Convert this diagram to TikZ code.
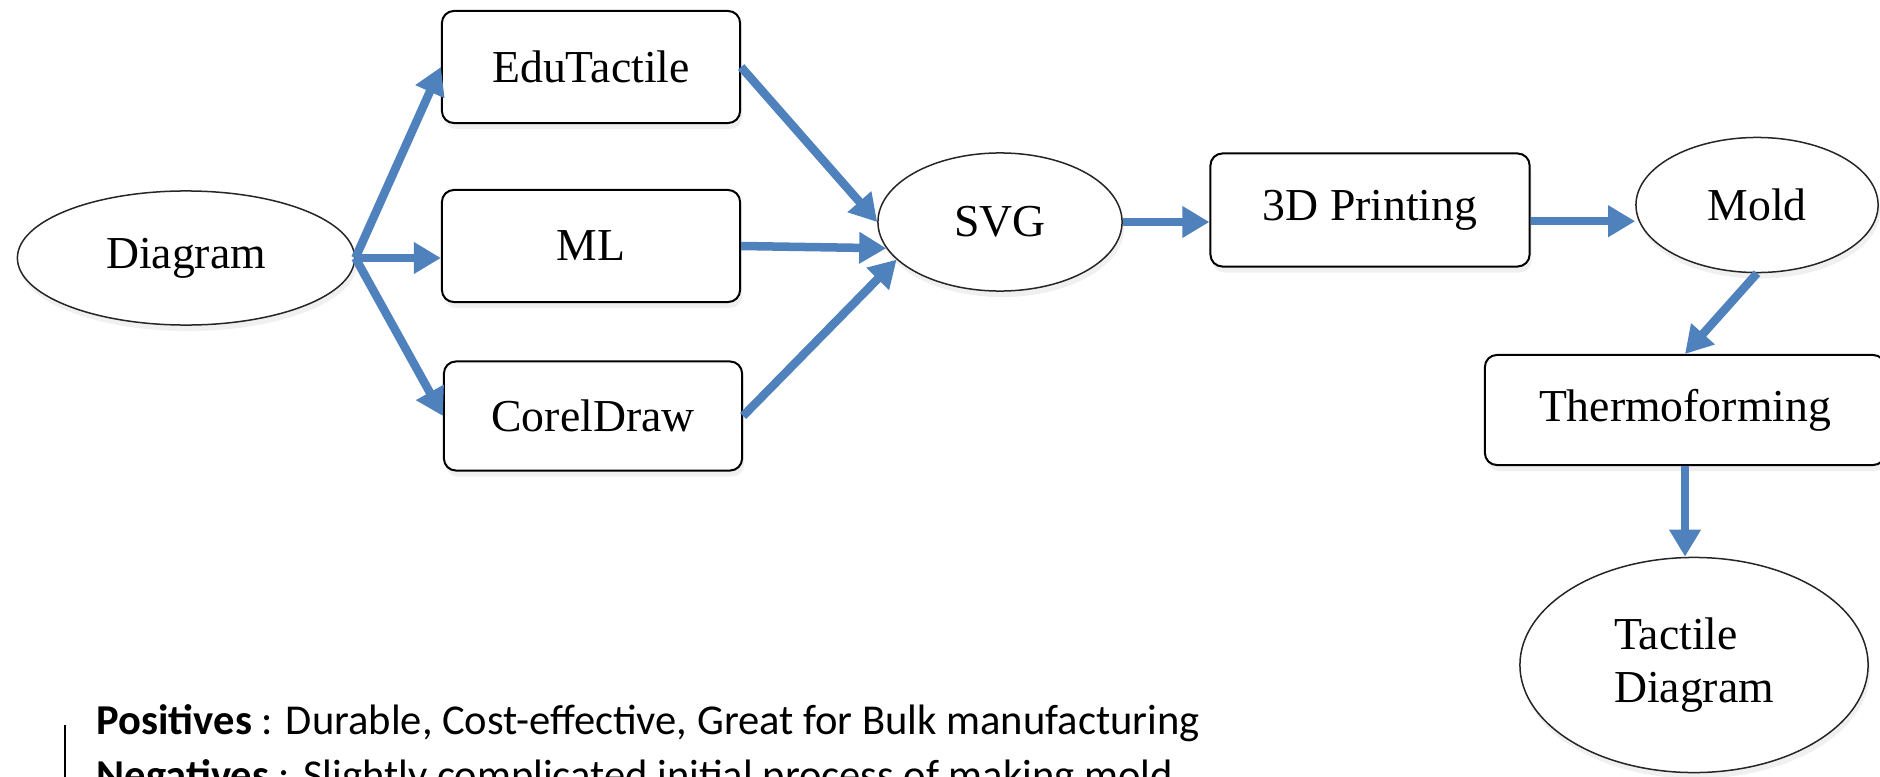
\documentclass[tikz,border=0pt]{standalone}
\usepackage{fontspec}
\setmainfont{Liberation Serif}
\newfontfamily\notefont{Carlito}
\usetikzlibrary{arrows.meta}
\usetikzlibrary{shapes.geometric}
\usetikzlibrary{positioning}
\usetikzlibrary{shadows}
\usepackage{xcolor}
\definecolor{flowblue}{HTML}{4F81BD}

\begin{document}
\begin{tikzpicture}[
        x=0.01cm, y=-0.01cm,
        pbox/.style={rectangle, rounded corners=0.12cm, draw=black, line width=0.02cm, fill=white, minimum width=2.98cm, minimum height=1.12cm, font=\fontsize{13}{15}\selectfont, drop shadow={opacity=0.12, shadow xshift=0.02cm, shadow yshift=-0.06cm}},
        pell/.style={ellipse, draw=black!85, line width=0.015cm, fill=white, inner sep=0pt, font=\fontsize{13}{15}\selectfont, drop shadow={opacity=0.12, shadow xshift=0.02cm, shadow yshift=-0.06cm}},
        note/.style={font=\notefont\fontsize{12.1}{14}\selectfont, inner sep=0pt, anchor=base west},
        flow/.style={-{Triangle[width=0.3cm,length=0.27cm]}, line width=0.085cm, draw=flowblue}
    ]
        \useasboundingbox (0,0) rectangle (1880,776);

        \node[pell, minimum width=3.37cm, minimum height=1.34cm] (diag) at (186,258) {Diagram};
        \node[pbox] (edu) at (591,67) {EduTactile};
        \node[pbox] (ml) at (591,246) {ML};
        \node[pbox, minimum height=1.09cm] (corel) at (593,416) {CorelDraw};
        \node[pell, minimum width=2.44cm, minimum height=1.38cm] (svg) at (1000,222) {SVG};
        \node[pbox, minimum width=3.19cm, minimum height=1.13cm] (print) at (1370,210) {3D Printing};
        \node[pell, minimum width=2.42cm, minimum height=1.35cm] (mold) at (1757,205) {Mold};
        \node[pbox, minimum width=4cm, minimum height=1.1cm] (thermo) at (1685,410) {Thermoforming};
        \node[pell, minimum width=3.48cm, minimum height=2.15cm, align=left] (tact) at (1694,665) {Tactile\\Diagram};

        \path (diag.east) edge[flow] (edu.west)
            (diag.east) edge[flow] (diag.east -| ml.west)
            (diag.east) edge[flow] (corel.west)
            (edu.east) edge[flow] (svg.west)
            (ml.east) edge[flow] (svg.193)
            (corel.east) edge[flow] (svg.200)
            (svg.east) edge[flow] (svg.east -| print.west)
            (print.-4) edge[flow] (print.-4 -| mold.west)
            (mold.south) edge[flow] (thermo.north)
            (thermo.south) edge[flow] (thermo.south |- tact.north);

        \node[note] (pos) at (96,734) {\textbf{Positives} : Durable, Cost-effective, Great for Bulk manufacturing};
        \node[note] (neg) at ([yshift=-0.55cm]pos.base west) {\textbf{Negatives} : Slightly complicated initial process of making mold};
        \draw[line width=0.02cm] (65,725) -- (65,800);
    \end{tikzpicture}
\end{document}
